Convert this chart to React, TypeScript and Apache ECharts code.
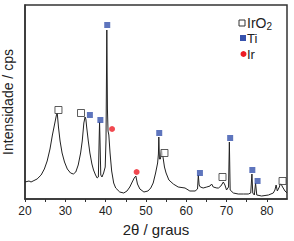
import React, { useEffect, useRef } from "react";
import * as echarts from "echarts";

// XRD pattern (2θ in degrees, intensity in arbitrary units)
const twoTheta = [
  20.0, 21.0, 21.5, 22.0, 23.0, 24.0, 24.8, 25.5, 26.2, 26.8, 27.3, 27.8, 28.0, 28.3, 28.7, 29.2, 29.8, 30.5,
  31.3, 32.0, 32.6, 33.2, 33.8, 34.2, 34.6, 34.9, 35.1, 35.3, 35.7, 36.1, 36.6, 37.0, 37.5, 37.9, 38.2, 38.4,
  38.5, 38.6, 38.8, 39.1, 39.5, 39.9, 40.1, 40.3, 40.45, 40.6, 40.8, 41.1, 41.5, 42.0, 42.5, 43.5, 44.5, 45.3,
  46.0, 46.6, 47.1, 47.5, 47.9, 48.5, 49.5, 50.5, 51.2, 51.8, 52.4, 52.9, 53.1, 53.2, 53.35, 53.6, 53.9, 54.2,
  54.6, 55.0, 55.7, 56.8, 58.0, 59.7, 60.9, 62.2, 62.8, 63.0, 63.2, 63.5, 64.2, 65.1, 65.9, 66.3, 66.7, 67.6,
  68.0, 68.6, 69.2, 69.6, 70.0, 70.5, 70.7, 70.9, 71.7, 72.9, 74.2, 75.4, 76.0, 76.3, 76.5, 76.9, 77.2, 77.5,
  78.7, 80.4, 81.6, 82.0, 82.3, 82.6, 83.1, 83.4, 83.9, 84.5, 85.0,
];
const intensity = [
  17, 18, 17, 18, 20, 24, 30, 38, 50, 64, 74, 84, 86, 72, 58, 46, 37, 30,
  26, 25, 27, 34, 46, 58, 76, 82, 80, 72, 58, 46, 35, 29, 24, 21, 22, 60,
  77, 60, 24, 22, 26, 32, 60, 169, 90, 68, 64, 46, 28, 16, 11, 7, 6, 8,
  12, 17, 21, 23, 15, 10, 7, 8, 11, 16, 26, 36, 45, 62, 40, 40, 49, 43,
  32, 26, 19, 15, 12, 11, 8, 8, 10, 24, 14, 12, 11, 12, 13, 15, 12, 11,
  11, 13, 17, 14, 9, 12, 57, 9, 6, 5, 5, 5, 6, 25, 6, 4, 16, 4,
  3, 4, 6, 9, 14, 8, 12, 16, 12, 8, 6,
];

// Phase markers
const iro2X = [28.3, 33.9, 54.6, 69.0, 83.9];
const iro2Y = [89, 86, 46, 22, 18];
const tiX = [36.1, 38.7, 40.4, 53.3, 63.4, 70.9, 76.4, 77.7];
const tiY = [84, 79, 174, 66, 26, 61, 29, 18];
const irX = [41.6, 47.7];
const irY = [70, 27];

const xTickLabels = [20, 30, 40, 50, 60, 70, 80];

const FONT = "'Liberation Sans', Arial, Helvetica, sans-serif";
const BLUE = "#3652ad";
const RED = "#ee1c24";
const DARK = "#333";

export default function App() {
  const ref = useRef<HTMLDivElement>(null);
  useEffect(() => {
    if (!ref.current) return;
    const chart = echarts.init(ref.current, undefined, { renderer: "svg" });
    const zip = (xs: number[], ys: number[]) => xs.map((x, i) => [x, ys[i]]);
    chart.setOption({
      animation: false,
      grid: {
        left: 25,
        top: 5,
        width: 262,
        height: 194,
        show: true,
        borderColor: DARK,
        borderWidth: 1.5,
        backgroundColor: "transparent",
        containLabel: false,
        outerBoundsMode: "none",
      },
      xAxis: {
        type: "value",
        min: 20,
        max: 85,
        interval: 5,
        name: "2θ / graus",
        nameLocation: "middle",
        nameGap: 23,
        nameTextStyle: { fontFamily: FONT, fontSize: 15, color: "#222" },
        axisLine: { show: true, lineStyle: { color: DARK, width: 1.5 } },
        axisTick: { show: true, length: 3, lineStyle: { color: DARK, width: 1 } },
        splitLine: { show: false },
        axisLabel: {
          margin: 6,
          fontFamily: FONT,
          fontSize: 12,
          color: "#222",
          showMaxLabel: false,
          formatter: (v: number) => (xTickLabels.includes(v) ? String(v) : ""),
        },
      },
      yAxis: {
        type: "value",
        min: 0,
        max: 194,
        name: "Intensidade / cps",
        nameLocation: "middle",
        nameGap: 10,
        nameTextStyle: { fontFamily: FONT, fontSize: 14, color: "#222" },
        axisLine: { show: true, lineStyle: { color: DARK, width: 1.5 } },
        axisTick: { show: false },
        axisLabel: { show: false },
        splitLine: { show: false },
      },
      series: [
        {
          type: "line",
          data: zip(twoTheta, intensity),
          symbol: "none",
          lineStyle: { color: "#222", width: 1 },
          z: 2,
        },
        {
          type: "scatter",
          data: zip(iro2X, iro2Y),
          symbol: "rect",
          symbolSize: 7,
          itemStyle: { color: "#fff", borderColor: DARK, borderWidth: 1 },
          z: 3,
        },
        {
          type: "scatter",
          data: zip(tiX, tiY),
          symbol: "rect",
          symbolSize: 6,
          itemStyle: { color: BLUE },
          z: 3,
        },
        {
          type: "scatter",
          data: zip(irX, irY),
          symbol: "circle",
          symbolSize: 6,
          itemStyle: { color: RED },
          z: 3,
        },
      ],
      graphic: [
        {
          type: "rect",
          shape: { x: 239, y: 20, width: 6, height: 6 },
          style: { fill: "#fff", stroke: DARK, lineWidth: 1 },
        },
        {
          type: "text",
          x: 247,
          y: 23,
          style: {
            text: "{a|IrO}{b|2}",
            verticalAlign: "middle",
            rich: {
              a: { fontFamily: FONT, fontSize: 14, fill: "#222" },
              b: { fontFamily: FONT, fontSize: 10, fill: "#222", padding: [6, 0, 0, 0] },
            },
          },
        },
        {
          type: "rect",
          shape: { x: 240, y: 35, width: 6, height: 6 },
          style: { fill: BLUE },
        },
        {
          type: "text",
          x: 247,
          y: 38.5,
          style: { text: "Ti", fontFamily: FONT, fontSize: 13, fill: "#222", verticalAlign: "middle" },
        },
        {
          type: "circle",
          shape: { cx: 243.5, cy: 54, r: 3 },
          style: { fill: RED },
        },
        {
          type: "text",
          x: 247,
          y: 54,
          style: { text: "Ir", fontFamily: FONT, fontSize: 13, fill: "#222", verticalAlign: "middle" },
        },
      ],
    });
    return () => chart.dispose();
  }, []);
  return <div ref={ref} style={{ width: 294, height: 241, position: "absolute", left: 0, top: 0 }} />;
}
